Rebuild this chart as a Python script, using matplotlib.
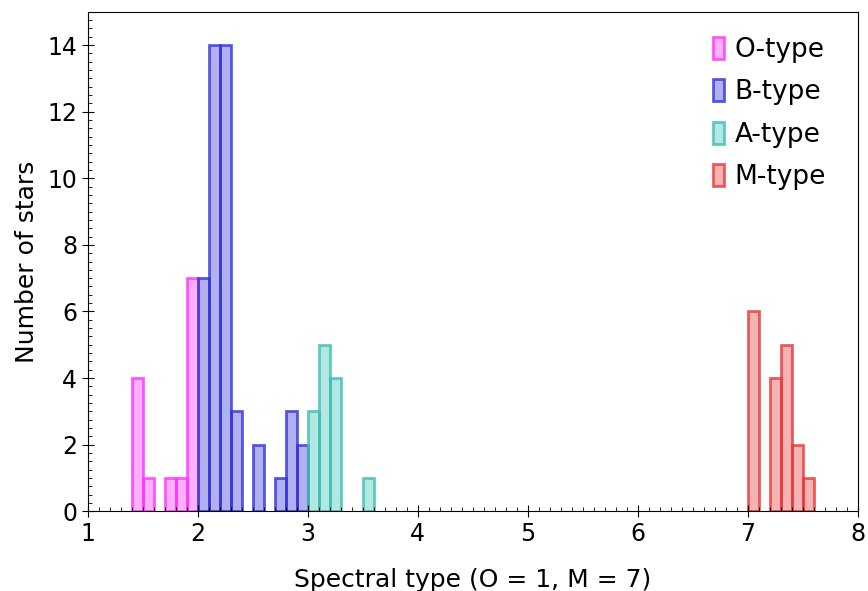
import matplotlib
matplotlib.use('Agg')
import matplotlib.pyplot as plt
from matplotlib.ticker import MultipleLocator

bin_width = 0.1

# left bin edges and counts per spectral class
o_edges = [1.4, 1.5, 1.7, 1.8, 1.9]
o_counts = [4, 1, 1, 1, 7]

b_edges = [2.0, 2.1, 2.2, 2.3, 2.5, 2.7, 2.8, 2.9]
b_counts = [7, 14, 14, 3, 2, 1, 3, 2]

a_edges = [3.0, 3.1, 3.2, 3.5]
a_counts = [3, 5, 4, 1]

m_edges = [7.0, 7.2, 7.3, 7.4, 7.5]
m_counts = [6, 4, 5, 2, 1]

groups = [
    ('O-type', o_edges, o_counts, '#ff33ff'),
    ('B-type', b_edges, b_counts, '#3333dd'),
    ('A-type', a_edges, a_counts, '#3cbfb4'),
    ('M-type', m_edges, m_counts, '#e83838'),
]


def main():
    fig = plt.figure(figsize=(8.68, 5.91), dpi=100)
    ax = fig.add_axes([0.101, 0.135, 0.887, 0.845])

    for name, edges, counts, color in groups:
        ax.bar(edges, counts, width=bin_width, align='edge',
               facecolor=matplotlib.colors.to_rgba(color, 0.38),
               edgecolor=matplotlib.colors.to_rgba(color, 0.8),
               linewidth=2, label=name)

    ax.set_xlim(1, 8)
    ax.set_ylim(0, 15)
    ax.set_yticks(range(0, 15, 2))
    ax.xaxis.set_minor_locator(MultipleLocator(0.1))
    ax.yaxis.set_minor_locator(MultipleLocator(0.25))
    ax.tick_params(which='major', direction='inout', length=8, labelsize=17)
    ax.tick_params(which='minor', direction='in', length=3)

    ax.set_xlabel('Spectral type (O = 1, M = 7)', fontsize=18, labelpad=16)
    ax.set_ylabel('Number of stars', fontsize=18, labelpad=6)

    ax.legend(loc='upper right', bbox_to_anchor=(0.986, 0.992),
              frameon=False, fontsize=19,
              handlelength=0.4, handleheight=0.9, handletextpad=0.4,
              labelspacing=0.62, borderaxespad=0.3, borderpad=0.5)

    fig.savefig('out.png', dpi=100)


if __name__ == '__main__':
    main()
